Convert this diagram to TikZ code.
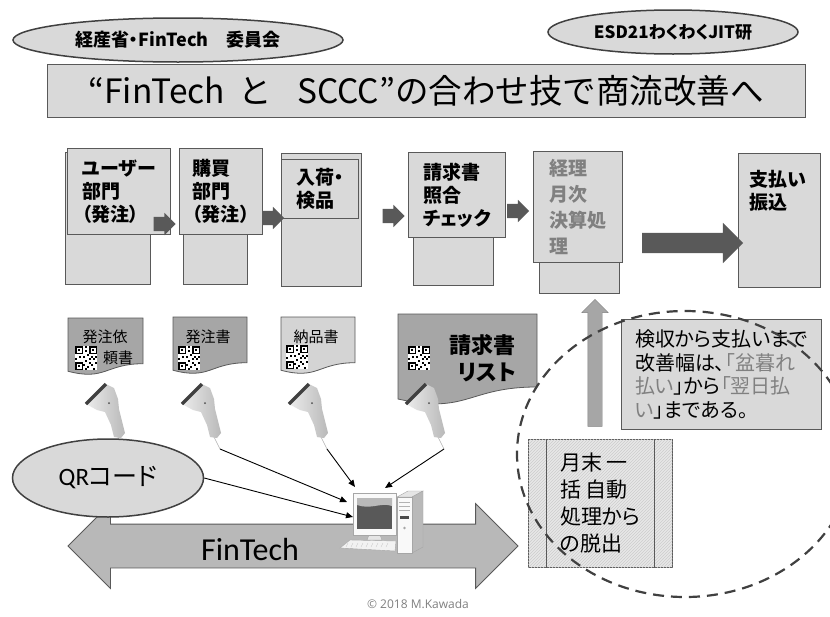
\documentclass[tikz,border=0pt]{standalone}
\usepackage{fontspec}
\setmainfont{Noto Sans CJK JP}[RawFeature=+palt]
\newfontfamily\plainjp{Noto Sans CJK JP}
\newfontfamily\lat{Carlito}
\newfontfamily\cpfont{Open Sans}
\usetikzlibrary{shapes.geometric,shapes.arrows,arrows.meta,patterns}

\definecolor{lgray}{HTML}{D9D9D9}
\definecolor{mgray}{HTML}{A6A6A6}
\definecolor{pgray}{HTML}{D4D4D4}
\definecolor{agray}{HTML}{B8B8B8}
\definecolor{dgray}{HTML}{595959}
\definecolor{bgray}{HTML}{404040}
\definecolor{tgray}{HTML}{808080}

\newcommand{\sheet}[5]{%
  \draw[dgray,line width=0.8pt,fill=#5] (#1,#2) -- ({#1+#3},#2) -- ({#1+#3},{#2+0.802*#4})
    .. controls ({#1+0.5*#3},{#2+0.802*#4}) and ({#1+0.5*#3},{#2+1.107*#4})
    .. (#1,{#2+0.934*#4}) -- cycle;}

\newcommand{\qrmark}[2]{%
  \begin{scope}[shift={(#1,#2)}]
    \fill[white] (0,0) rectangle (22,24);
    \foreach \qa/\qb in {0/0,14/0,0/16}{
      \fill[black] (\qa,\qb) rectangle ++(8,8);
      \fill[white] ({\qa+1.5},{\qb+1.5}) rectangle ++(5,5);
      \fill[black] ({\qa+3},{\qb+3}) rectangle ++(2,2);}
    \foreach \qa/\qb in {10/0,10/4,8/10,12/8,16/10,18/12,10/14,14/16,12/20,16/18,18/22,20/16,4/10,0/12,10/22,14/12,20/10,8/18}
      \fill[black] (\qa,\qb) rectangle ++(2,2);
  \end{scope}}

\tikzset{
  scanner/.pic={
    \draw[gray!60,line width=0.6pt] (31,34) -- (37,46);
    \shade[left color=gray!15,right color=gray!55] (-1,1) -- (19,-19) -- (27,-15) -- (31,-4)
      -- (32,6) -- (36,22) -- (38,30) -- (34,35) -- (27,34) -- (24,22) -- (18,9) -- (10,7) -- cycle;
    \draw[black!75,line width=3.2pt] (-1,1) -- (19,-19);
    \fill[black!70] (22,0) circle (1pt);
    \coordinate (-tip) at (37,46);
  },
  computer/.pic={
    \draw[gray!70,fill=gray!20] (44,4) -- (55,-2) -- (70,-2) -- (59,4) -- cycle;
    \draw[gray!70,fill=gray!55] (59,4) -- (70,-2) -- (70,54) -- (59,60) -- cycle;
    \draw[gray!70,fill=gray!5] (44,4) rectangle (59,60);
    \foreach \h in {9,13,17} \draw[gray!60] (46,\h) -- (57,\h);
    \fill[black!70] (47,23) rectangle (56,25.5);
    \fill[gray!70] (51.5,35) circle (1.3pt);
    \draw[gray!70,fill=gray!20] (16,42) -- (27,42) -- (29,47) -- (14,47) -- cycle;
    \draw[gray!70,fill=gray!5] (0,0) rectangle (43,42);
    \fill[black!65] (4,5) rectangle (39,36);
    \fill[gray!55] (4,5) -- (39,5) -- (39,13) .. controls (28,9) and (18,17) .. (4,12) -- cycle;
    \draw[gray!70,fill=gray!10] (-3,47) -- (43,48) -- (42,58) -- (-13,55) -- cycle;
    \foreach \k in {0,...,8} \draw[gray!45] ({-5+5*\k},50) -- ({-7+5*\k},54);
    \coordinate (-n1) at (2,-6);
    \coordinate (-n2) at (32,-5);
    \coordinate (-w1) at (-6,9);
    \coordinate (-w2) at (0,24);
  }
}

\begin{document}
\begin{tikzpicture}[x=1pt,y=-1pt]
  \useasboundingbox (0,0) rectangle (830,616);
  \tikzset{C/.style = {ellipse, draw=bgray, line width=1.5pt, fill=lgray, inner sep=0}}
  \tikzset{B/.style = {draw=dgray, line width=0.8pt, fill=lgray, anchor=north west, inner sep=0, align=left, font=\fontsize{19}{23}\selectfont\bfseries}}
  \tikzset{A/.style = {single arrow, fill=dgray, inner xsep=0, inner ysep=7pt, single arrow head extend=4pt, minimum width=22pt, minimum height=22pt}}
  \tikzset{D/.style = {font=\fontsize{15}{18}\selectfont, inner sep=0}}
  \tikzset{E/.style = {draw=black, line width=0.9pt, -{Triangle[length=7pt,width=6pt]}}}
  \fill[white] (0,0) rectangle (830,616);
  \node[C, minimum width=330pt, minimum height=44pt, font=\fontsize{18}{20}\selectfont\bfseries] (e0) at (178,40) {経産省・FinTech\quad 委員会};
  \node[C, minimum width=250pt, minimum height=44pt, font=\fontsize{17}{20}\selectfont\bfseries] (e1) at (673,32) {ESD21わくわくJIT研};
  \node[draw=dgray, line width=1pt, fill=lgray, minimum width=758pt, minimum height=53pt, font=\plainjp\fontsize{33.5}{40}\selectfont] (t) at (426,91) {“FinTech\hspace{0.4em}と\hspace{0.75em}SCCC”の合わせ技で商流改善へ};
  \node[B, minimum width=85pt, minimum height=132pt] (u1) at (65,152) {};
  \node[B, minimum width=103pt, minimum height=86pt] (u0) at (67,148) {ユーザー\\部門\\（発注）};
  \node[B, minimum width=64pt, minimum height=124pt] (p1) at (183,160) {};
  \node[B, minimum width=83pt, minimum height=86pt] (p0) at (179,148) {購買\\部門\\（発注）};
  \node[B, minimum width=80pt, minimum height=133pt] (r1) at (281,153) {};
  \node[B, minimum width=77pt, minimum height=59pt] (r0) at (281,159) {入荷・\\検品};
  \node[B, minimum width=80pt, minimum height=85pt] (i1) at (413,200) {};
  \node[B, minimum width=97pt, minimum height=85pt] (i0) at (408,152) {請求書\\照合\\チェック};
  \node[B, minimum width=80pt, minimum height=53pt] (k1) at (539,240) {};
  \node[B, minimum width=89pt, minimum height=111pt, text=tgray, font=\fontsize{19}{26}\selectfont\bfseries] (k0) at (533,151) {経理\\月次\\決算処\\理};
  \node[B, minimum width=82pt, minimum height=134pt] (s0) at (738,153) {};
  \node[B, draw=none, fill=none] (s0t) at (749,170) {支払い\\振込};
  \node[A] (a0) at (161,224) {};
  \node[A] (a1) at (269.5,218) {};
  \node[A] (a2) at (390,216) {};
  \node[A] (a3) at (514.5,211) {};
  \node[A, inner ysep=10pt, single arrow head extend=10pt, minimum width=40pt, minimum height=101pt] (a4) at (687.5,243) {};
  \sheet{68}{318}{75}{57}{mgray}
  \sheet{173}{317}{74}{57}{mgray}
  \sheet{281}{317}{74}{57}{pgray}
  \sheet{398}{314}{139}{91}{mgray}
  \qrmark{75}{346}
  \qrmark{178}{346}
  \qrmark{286}{345}
  \qrmark{408}{346}
  \node[D] (d0) at (105,337) {発注依};
  \node[D] (d1) at (118,358) {頼書};
  \node[D] (d2) at (208,337) {発注書};
  \node[D] (d3) at (316,337) {納品書};
  \node[D, anchor=east, align=right, font=\fontsize{22}{27}\selectfont\bfseries] (d4) at (516,358) {請求書\\リスト};
  \node[single arrow, fill=mgray, draw=gray, rotate=90, inner xsep=0, inner ysep=7pt, single arrow head extend=6pt, minimum width=26pt, minimum height=127pt] (up) at (595,366.5) {};
  \node[B, minimum width=200pt, minimum height=110pt, font=\fontsize{20}{23.5}\selectfont] (q) at (621,319) {検収から支払いまで\\改善幅は、\textcolor{tgray}{「盆暮れ}\\\textcolor{tgray}{払い}」から\textcolor{tgray}{「翌日払}\\\textcolor{tgray}{い}」まである。};
  \node[B, minimum width=144pt, minimum height=128pt, fill=gray!18, postaction={pattern=north east lines, pattern color=gray!40}, font=\fontsize{21}{27}\selectfont] (m) at (528,439) {月末 一\\括 自動\\処理から\\の脱出};
  \draw[dgray, line width=0.8pt] ([xshift=18pt]m.north west) -- ([xshift=18pt]m.south west);
  \draw[dgray, line width=0.8pt] ([xshift=-18pt]m.north east) -- ([xshift=-18pt]m.south east);
  \node[double arrow, fill=agray, draw=dgray, line width=0.8pt, inner xsep=0, inner ysep=21.5pt, double arrow head extend=20.5pt, minimum width=84pt, minimum height=450pt] (ft) at (293,546) {};
  \node[font=\lat\fontsize{32}{36}\selectfont] (ftt) at (250,549) {FinTech};
  \pic (pc) at (353,493) {computer};
  \pic (s0) at (87,403) {scanner};
  \pic (s1) at (183,403) {scanner};
  \pic (s2) at (290,403) {scanner};
  \pic (s3) at (407,403) {scanner};
  \node[C, minimum width=191pt, minimum height=78pt, font=\fontsize{25}{28}\selectfont] (qr) at (108,478) {{\lat QR}コード};
  \draw[E] (s1-tip) -- (pc-w1);
  \draw[E] (s2-tip) -- (pc-n1);
  \draw[E] (s3-tip) -- (pc-n2);
  \draw[E] (qr.east) -- (pc-w2);
  \node[ellipse, draw=bgray, line width=2.2pt, dash pattern=on 11pt off 7pt, minimum width=336pt, minimum height=286pt, inner sep=0] (zone) at (685,454) {};
  \node[font=\cpfont\fontsize{12}{14}\selectfont, text=gray] (cr) at (418,604) {© 2018 M.Kawada};
\end{tikzpicture}
\end{document}
